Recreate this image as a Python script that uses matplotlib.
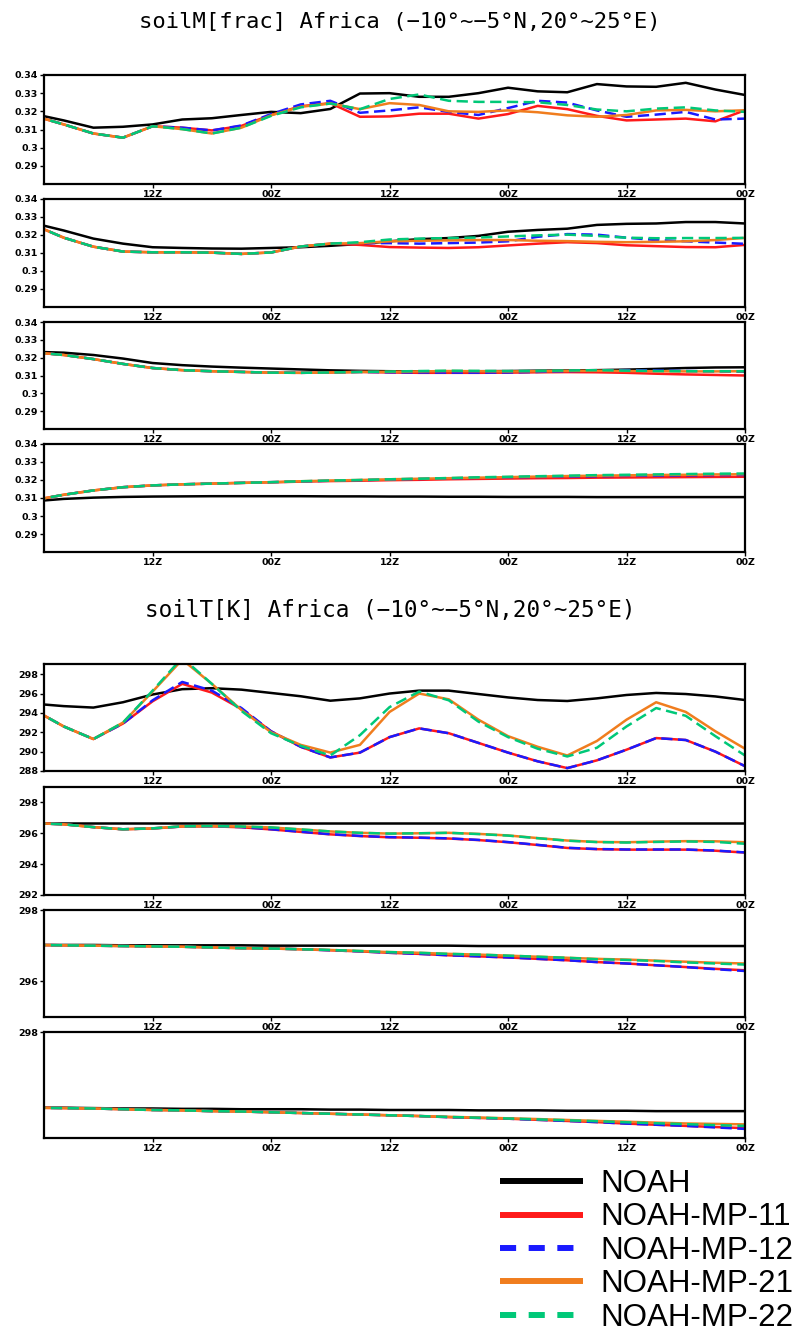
import numpy as np
import matplotlib
matplotlib.use('Agg')
import matplotlib.pyplot as plt
from matplotlib.lines import Line2D

# ---------------- data ----------------
hours = np.arange(0, 73, 3)          # forecast hour, 3-hourly
tick_hours = [12, 24, 36, 48, 60, 72]
tick_labels = ['12Z', '00Z', '12Z', '00Z', '12Z', '00Z']
series_names = ['NOAH', 'NOAH-MP-11', 'NOAH-MP-12', 'NOAH-MP-21', 'NOAH-MP-22']

title_m = 'soilM[frac] Africa (\u221210\u00b0~\u22125\u00b0N,20\u00b0~25\u00b0E)'
title_t = 'soilT[K] Africa (\u221210\u00b0~\u22125\u00b0N,20\u00b0~25\u00b0E)'

# soil moisture layer 1
sm1_noah = [0.3185, 0.3150, 0.3110, 0.3115, 0.3128, 0.3155, 0.3162, 0.3180, 0.3197, 0.3190, 0.3213, 0.3298, 0.3300,
            0.3280, 0.3280, 0.3300, 0.3330, 0.3310, 0.3305, 0.3350, 0.3337, 0.3335, 0.3357, 0.3320, 0.3290]
sm1_mp11 = [0.3175, 0.3128, 0.3078, 0.3055, 0.3118, 0.3110, 0.3095, 0.3120, 0.3180, 0.3228, 0.3245, 0.3170, 0.3172,
            0.3187, 0.3187, 0.3160, 0.3185, 0.3230, 0.3212, 0.3175, 0.3150, 0.3155, 0.3160, 0.3145, 0.3206]
sm1_mp12 = [0.3175, 0.3128, 0.3078, 0.3055, 0.3118, 0.3110, 0.3095, 0.3122, 0.3185, 0.3238, 0.3258, 0.3192, 0.3205,
            0.3222, 0.3197, 0.3180, 0.3218, 0.3258, 0.3248, 0.3205, 0.3170, 0.3182, 0.3197, 0.3155, 0.3160]
sm1_mp21 = [0.3175, 0.3128, 0.3078, 0.3055, 0.3118, 0.3102, 0.3078, 0.3110, 0.3178, 0.3225, 0.3243, 0.3212, 0.3245,
            0.3235, 0.3200, 0.3197, 0.3205, 0.3195, 0.3178, 0.3170, 0.3180, 0.3205, 0.3208, 0.3200, 0.3206]
sm1_mp22 = [0.3175, 0.3128, 0.3078, 0.3055, 0.3118, 0.3102, 0.3078, 0.3110, 0.3175, 0.3222, 0.3243, 0.3212, 0.3268,
            0.3293, 0.3258, 0.3252, 0.3252, 0.3250, 0.3235, 0.3210, 0.3200, 0.3215, 0.3222, 0.3205, 0.3197]

# soil moisture layer 2
sm2_noah = [0.3265, 0.3225, 0.3180, 0.3152, 0.3132, 0.3128, 0.3125, 0.3124, 0.3128, 0.3132, 0.3140, 0.3150, 0.3165,
            0.3177, 0.3183, 0.3195, 0.3218, 0.3228, 0.3235, 0.3256, 0.3262, 0.3264, 0.3272, 0.3272, 0.3264]
sm2_mp11 = [0.3255, 0.3185, 0.3135, 0.3108, 0.3104, 0.3104, 0.3102, 0.3095, 0.3103, 0.3136, 0.3152, 0.3145, 0.3133,
            0.3130, 0.3128, 0.3132, 0.3142, 0.3152, 0.3160, 0.3155, 0.3143, 0.3138, 0.3133, 0.3132, 0.3145]
sm2_mp12 = [0.3255, 0.3185, 0.3135, 0.3108, 0.3104, 0.3104, 0.3102, 0.3095, 0.3103, 0.3136, 0.3152, 0.3155, 0.3155,
            0.3152, 0.3155, 0.3158, 0.3165, 0.3190, 0.3205, 0.3202, 0.3185, 0.3172, 0.3165, 0.3158, 0.3151]
sm2_mp21 = [0.3255, 0.3185, 0.3135, 0.3108, 0.3104, 0.3104, 0.3102, 0.3095, 0.3103, 0.3136, 0.3152, 0.3155, 0.3165,
            0.3168, 0.3170, 0.3172, 0.3172, 0.3168, 0.3166, 0.3162, 0.3160, 0.3162, 0.3165, 0.3172, 0.3184]
sm2_mp22 = [0.3255, 0.3185, 0.3135, 0.3108, 0.3104, 0.3104, 0.3102, 0.3095, 0.3103, 0.3136, 0.3152, 0.3160, 0.3175,
            0.3180, 0.3183, 0.3186, 0.3192, 0.3198, 0.3202, 0.3195, 0.3185, 0.3182, 0.3183, 0.3183, 0.3184]

# soil moisture layer 3
sm3_noah = [0.3233, 0.3228, 0.3215, 0.3195, 0.3170, 0.3158, 0.3150, 0.3144, 0.3139, 0.3134, 0.3129, 0.3126, 0.3124,
            0.3123, 0.3123, 0.3124, 0.3125, 0.3127, 0.3128, 0.3130, 0.3133, 0.3137, 0.3142, 0.3145, 0.3146]
sm3_mp11 = [0.3230, 0.3215, 0.3192, 0.3165, 0.3142, 0.3130, 0.3124, 0.3120, 0.3116, 0.3115, 0.3117, 0.3120, 0.3117,
            0.3115, 0.3115, 0.3115, 0.3116, 0.3118, 0.3119, 0.3118, 0.3115, 0.3110, 0.3106, 0.3103, 0.3100]
sm3_mp12 = [0.3230, 0.3215, 0.3192, 0.3165, 0.3142, 0.3130, 0.3124, 0.3120, 0.3116, 0.3115, 0.3117, 0.3120, 0.3118,
            0.3117, 0.3116, 0.3116, 0.3117, 0.3120, 0.3124, 0.3128, 0.3130, 0.3128, 0.3125, 0.3123, 0.3121]
sm3_mp21 = [0.3230, 0.3215, 0.3192, 0.3165, 0.3142, 0.3130, 0.3124, 0.3120, 0.3116, 0.3115, 0.3117, 0.3120, 0.3121,
            0.3123, 0.3125, 0.3124, 0.3123, 0.3124, 0.3126, 0.3127, 0.3125, 0.3124, 0.3123, 0.3123, 0.3124]
sm3_mp22 = [0.3230, 0.3215, 0.3192, 0.3165, 0.3142, 0.3130, 0.3124, 0.3120, 0.3116, 0.3115, 0.3117, 0.3120, 0.3122,
            0.3125, 0.3127, 0.3126, 0.3125, 0.3126, 0.3128, 0.3130, 0.3127, 0.3125, 0.3124, 0.3124, 0.3124]

# soil moisture layer 4
sm4_noah = [0.3082, 0.3095, 0.3102, 0.3106, 0.3108, 0.3109, 0.3110, 0.3110, 0.3110, 0.3110, 0.3109, 0.3109, 0.3108,
            0.3108, 0.3107, 0.3107, 0.3106, 0.3106, 0.3106, 0.3105, 0.3105, 0.3105, 0.3105, 0.3105, 0.3105]
sm4_mp11 = [0.3088, 0.3118, 0.3142, 0.3160, 0.3170, 0.3176, 0.3180, 0.3184, 0.3187, 0.3191, 0.3194, 0.3196, 0.3199,
            0.3201, 0.3204, 0.3206, 0.3208, 0.3210, 0.3211, 0.3213, 0.3214, 0.3215, 0.3216, 0.3217, 0.3218]
sm4_mp12 = [0.3088, 0.3118, 0.3142, 0.3160, 0.3170, 0.3176, 0.3180, 0.3184, 0.3188, 0.3192, 0.3196, 0.3199, 0.3203,
            0.3206, 0.3209, 0.3212, 0.3215, 0.3217, 0.3219, 0.3221, 0.3223, 0.3224, 0.3226, 0.3227, 0.3228]
sm4_mp21 = [0.3088, 0.3118, 0.3142, 0.3160, 0.3170, 0.3176, 0.3180, 0.3184, 0.3188, 0.3193, 0.3197, 0.3200, 0.3204,
            0.3207, 0.3210, 0.3213, 0.3216, 0.3219, 0.3222, 0.3224, 0.3226, 0.3228, 0.3229, 0.3231, 0.3232]
sm4_mp22 = [0.3088, 0.3118, 0.3142, 0.3160, 0.3170, 0.3176, 0.3180, 0.3184, 0.3188, 0.3193, 0.3197, 0.3200, 0.3204,
            0.3207, 0.3211, 0.3215, 0.3218, 0.3221, 0.3224, 0.3227, 0.3229, 0.3231, 0.3233, 0.3235, 0.3236]

# soil temperature layer 1
st1_noah = [294.95, 294.70, 294.55, 295.10, 295.90, 296.45, 296.55, 296.40, 296.06, 295.72, 295.26, 295.50, 296.00,
            296.30, 296.30, 295.95, 295.60, 295.33, 295.23, 295.50, 295.85, 296.06, 295.95, 295.70, 295.33]
st1_mp11 = [294.30, 292.60, 291.30, 292.90, 295.20, 297.00, 296.10, 294.40, 292.10, 290.50, 289.40, 289.90, 291.50,
            292.40, 291.90, 290.90, 289.90, 289.00, 288.30, 289.10, 290.20, 291.40, 291.20, 290.00, 288.50]
st1_mp12 = [294.30, 292.60, 291.30, 292.90, 295.30, 297.20, 296.30, 294.50, 292.10, 290.50, 289.40, 289.90, 291.50,
            292.40, 291.90, 290.90, 289.90, 289.00, 288.30, 289.10, 290.20, 291.40, 291.20, 290.00, 288.50]
st1_mp21 = [294.30, 292.60, 291.30, 293.00, 296.20, 299.50, 297.00, 294.30, 292.00, 290.70, 289.90, 290.70, 294.10,
            296.00, 295.40, 293.30, 291.60, 290.50, 289.60, 291.10, 293.30, 295.10, 294.10, 292.10, 290.30]
st1_mp22 = [294.30, 292.60, 291.30, 293.00, 296.30, 299.70, 297.00, 294.20, 291.90, 290.60, 289.60, 291.70, 294.60,
            296.20, 295.30, 293.10, 291.50, 290.30, 289.50, 290.40, 292.60, 294.50, 293.70, 291.60, 289.60]

# soil temperature layer 2
st2_noah = [296.65, 296.65, 296.65, 296.65, 296.65, 296.65, 296.65, 296.65, 296.65, 296.65, 296.65, 296.65, 296.65,
            296.65, 296.65, 296.65, 296.65, 296.65, 296.65, 296.65, 296.65, 296.65, 296.65, 296.65, 296.65]
st2_mp11 = [296.66, 296.58, 296.40, 296.26, 296.31, 296.44, 296.45, 296.39, 296.25, 296.09, 295.93, 295.82, 295.74,
            295.71, 295.66, 295.56, 295.42, 295.24, 295.05, 294.97, 294.94, 294.94, 294.94, 294.87, 294.75]
st2_mp12 = [296.66, 296.58, 296.40, 296.26, 296.32, 296.44, 296.46, 296.40, 296.26, 296.10, 295.94, 295.83, 295.75,
            295.72, 295.67, 295.57, 295.43, 295.25, 295.06, 294.98, 294.95, 294.95, 294.95, 294.88, 294.76]
st2_mp21 = [296.66, 296.58, 296.40, 296.26, 296.32, 296.45, 296.47, 296.44, 296.38, 296.25, 296.12, 296.03, 295.98,
            296.00, 296.03, 295.96, 295.86, 295.69, 295.53, 295.44, 295.42, 295.46, 295.49, 295.48, 295.42]
st2_mp22 = [296.66, 296.58, 296.40, 296.26, 296.32, 296.45, 296.47, 296.44, 296.38, 296.25, 296.12, 296.03, 295.98,
            296.00, 296.03, 295.95, 295.85, 295.68, 295.52, 295.43, 295.40, 295.44, 295.47, 295.44, 295.32]

# soil temperature layer 3
st3_noah = [297.02, 297.02, 297.02, 297.01, 297.01, 297.01, 297.01, 297.01, 297.00, 297.00, 297.00, 297.00, 297.00,
            297.00, 297.00, 296.99, 296.99, 296.99, 296.99, 296.99, 296.99, 296.99, 296.99, 296.99, 296.99]
st3_mp11 = [297.02, 297.01, 297.00, 296.99, 296.98, 296.97, 296.95, 296.93, 296.92, 296.90, 296.87, 296.84, 296.80,
            296.77, 296.73, 296.70, 296.67, 296.63, 296.59, 296.54, 296.50, 296.45, 296.40, 296.35, 296.31]
st3_mp12 = [297.02, 297.01, 297.00, 296.99, 296.98, 296.97, 296.95, 296.93, 296.92, 296.90, 296.87, 296.84, 296.80,
            296.77, 296.73, 296.70, 296.67, 296.63, 296.59, 296.54, 296.50, 296.45, 296.40, 296.34, 296.29]
st3_mp21 = [297.02, 297.01, 297.00, 296.99, 296.98, 296.97, 296.95, 296.93, 296.92, 296.90, 296.88, 296.85, 296.82,
            296.80, 296.77, 296.75, 296.72, 296.69, 296.66, 296.63, 296.61, 296.58, 296.55, 296.52, 296.50]
st3_mp22 = [297.02, 297.01, 297.00, 296.99, 296.98, 296.97, 296.95, 296.93, 296.92, 296.90, 296.88, 296.85, 296.82,
            296.80, 296.77, 296.75, 296.72, 296.69, 296.66, 296.62, 296.60, 296.57, 296.53, 296.50, 296.47]

# soil temperature layer 4
st4_noah = [297.000, 297.000, 296.995, 296.990, 296.990, 296.985, 296.985, 296.980, 296.980, 296.980, 296.975,
            296.975, 296.970, 296.970, 296.970, 296.965, 296.965, 296.965, 296.960, 296.960, 296.960, 296.955,
            296.955, 296.955, 296.955]
st4_mp11 = [297.000, 296.995, 296.990, 296.980, 296.970, 296.965, 296.955, 296.950, 296.940, 296.930, 296.920,
            296.910, 296.900, 296.890, 296.875, 296.865, 296.855, 296.840, 296.825, 296.810, 296.790, 296.775,
            296.760, 296.745, 296.730]
st4_mp12 = [297.000, 296.995, 296.990, 296.980, 296.970, 296.965, 296.955, 296.950, 296.940, 296.930, 296.920,
            296.910, 296.900, 296.890, 296.875, 296.865, 296.855, 296.840, 296.825, 296.810, 296.790, 296.775,
            296.760, 296.740, 296.720]
st4_mp21 = [297.000, 296.995, 296.990, 296.980, 296.970, 296.965, 296.955, 296.950, 296.940, 296.930, 296.920,
            296.910, 296.900, 296.890, 296.880, 296.870, 296.860, 296.850, 296.838, 296.826, 296.815, 296.803,
            296.792, 296.786, 296.780]
st4_mp22 = [297.000, 296.995, 296.990, 296.980, 296.970, 296.965, 296.955, 296.950, 296.940, 296.930, 296.920,
            296.910, 296.900, 296.890, 296.878, 296.868, 296.858, 296.846, 296.834, 296.822, 296.808, 296.795,
            296.783, 296.770, 296.760]

sm_yticks = [0.29, 0.30, 0.31, 0.32, 0.33, 0.34]
sm_yticklabels = ['0.29', '0.3', '0.31', '0.32', '0.33', '0.34']

# ---------------- style ----------------
colors = ['#000000', '#ff1a1a', '#1a1aff', '#f07d1e', '#00c878']
dashed = [False, False, True, False, True]

W, H = 799, 1339
fig = plt.figure(figsize=(W / 100, H / 100), dpi=100)
X0, X1 = 44, 745


def add_panel(top, bottom):
    return fig.add_axes([X0 / W, 1 - bottom / H, (X1 - X0) / W, (bottom - top) / H])


def draw(ax, data, ylim, yticks, yticklabels):
    for vals, c, d in zip(data, colors, dashed):
        ln, = ax.plot(hours, vals, color=c, lw=1.8, solid_joinstyle='round',
                      solid_capstyle='round')
        if d:
            ln.set_dashes([4.5, 2.2])
    ax.set_xlim(1, 72)
    ax.set_ylim(*ylim)
    ax.set_xticks(tick_hours)
    ax.set_xticklabels(tick_labels)
    ax.set_yticks(yticks)
    ax.set_yticklabels(yticklabels)
    for s in ax.spines.values():
        s.set_linewidth(1.6)
    ax.tick_params(axis='both', direction='out', length=3, width=1.0, pad=1.2)
    for lab in ax.get_xticklabels() + ax.get_yticklabels():
        lab.set_fontsize(6.8)
        lab.set_fontweight('bold')
        lab.set_family('DejaVu Sans')


sm_panels = [(75, 184, [sm1_noah, sm1_mp11, sm1_mp12, sm1_mp21, sm1_mp22]),
             (199, 307, [sm2_noah, sm2_mp11, sm2_mp12, sm2_mp21, sm2_mp22]),
             (322, 429, [sm3_noah, sm3_mp11, sm3_mp12, sm3_mp21, sm3_mp22]),
             (444, 552, [sm4_noah, sm4_mp11, sm4_mp12, sm4_mp21, sm4_mp22])]
for top, bot, data in sm_panels:
    ax = add_panel(top, bot)
    draw(ax, data, (0.28, 0.34), sm_yticks, sm_yticklabels)

st_panels = [(664, 771, [st1_noah, st1_mp11, st1_mp12, st1_mp21, st1_mp22], (288, 299.05),
              [288, 290, 292, 294, 296, 298], ['288', '290', '292', '294', '296', '298']),
             (787, 895, [st2_noah, st2_mp11, st2_mp12, st2_mp21, st2_mp22], (292, 299.0),
              [292, 294, 296, 298], ['292', '294', '296', '298']),
             (910, 1017, [st3_noah, st3_mp11, st3_mp12, st3_mp21, st3_mp22], (295.0, 298.0),
              [296, 298], ['296', '298']),
             (1032, 1138, [st4_noah, st4_mp11, st4_mp12, st4_mp21, st4_mp22], (296.6, 298.0),
              [298], ['298'])]
for top, bot, data, ylim, yt, ytl in st_panels:
    ax = add_panel(top, bot)
    draw(ax, data, ylim, yt, ytl)

fig.text(400 / W, 1 - 22 / H, title_m, ha='center', va='center',
         family='DejaVu Sans Mono', fontsize=16)
fig.text(390 / W, 1 - 610 / H, title_t, ha='center', va='center',
         family='DejaVu Sans Mono', fontsize=16.3)

# legend
handles = []
for c, d in zip(colors, dashed):
    h = Line2D([], [], color=c, lw=4.3, solid_capstyle='butt', dash_capstyle='butt')
    if d:
        h.set_dashes([2.7, 2.1])
    handles.append(h)
fig.legend(handles, series_names, loc='upper left', bbox_to_anchor=(500 / W, 1 - 1169 / H),
           frameon=False, prop={'family': 'Liberation Sans', 'size': 22.5},
           handlelength=2.66, handletextpad=0.55, labelspacing=0.11,
           borderpad=0, borderaxespad=0)

fig.savefig('out.png', dpi=100)
